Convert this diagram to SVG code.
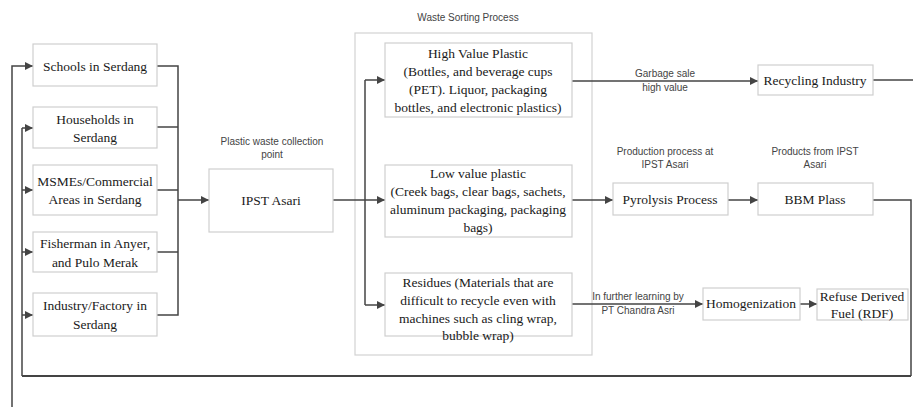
<svg xmlns="http://www.w3.org/2000/svg" width="913" height="407" viewBox="0 0 913 407">
<style>
.box{fill:#fff;stroke:#cfcfcf;stroke-width:1.2}
.t{font-family:"Liberation Serif","Times New Roman",serif;font-size:13.5px;fill:#1a1a1a;text-anchor:middle}
.lb{font-family:"Liberation Sans",Arial,sans-serif;font-size:10px;fill:#444;text-anchor:middle}
.ln{fill:none;stroke:#444;stroke-width:1.5}
.ar{fill:none;stroke:#444;stroke-width:1.5;marker-end:url(#ah)}
</style>
<defs>
<marker id="ah" viewBox="0 0 10 10" refX="10" refY="5" markerWidth="9" markerHeight="8" orient="auto" markerUnits="userSpaceOnUse">
<path d="M0,0 L10,5 L0,10 z" fill="#444"/>
</marker>
</defs>
<rect width="913" height="407" fill="#fff"/>
<g id="sorting-group">
<rect x="355" y="33" width="237" height="322" fill="none" stroke="#d2d2d2" stroke-width="1.2"/>
<text class="lb" x="468" y="21">Waste Sorting Process</text>
</g>
<g id="connectors">
<polyline class="ar" points="12,407 12,66 33,66"/>
<polyline class="ln" points="22,376 911,376" style="stroke-width:2.2"/>
<polyline class="ln" points="22,376 22,128"/>
<polyline class="ar" points="22,128 33,128"/>
<polyline class="ar" points="22,190 33,190"/>
<polyline class="ar" points="22,252 33,252"/>
<polyline class="ar" points="22,315 33,315"/>
<polyline class="ln" points="157,66 178,66 178,315 157,315"/>
<polyline class="ln" points="157,127 178,127"/>
<polyline class="ln" points="157,190 178,190"/>
<polyline class="ln" points="157,252 178,252"/>
<polyline class="ar" points="178,200 209,200"/>
<polyline class="ln" points="333,200 365,200"/>
<polyline class="ln" points="365,80 365,305"/>
<polyline class="ar" points="365,80 385,80"/>
<polyline class="ar" points="365,200 385,200"/>
<polyline class="ar" points="365,305 385,305"/>
<polyline class="ar" points="572,81 758,81"/>
<polyline class="ln" points="873,80 913,80"/>
<polyline class="ar" points="572,200 613,200"/>
<polyline class="ar" points="728,200 758,200"/>
<polyline class="ln" points="873,200 911,200 911,376"/>
<polyline class="ar" points="572,304 703,304"/>
<polyline class="ar" points="800,304 817,304"/>
<text class="lb" x="665" y="77">Garbage sale</text>
<text class="lb" x="665" y="91">high value</text>
<text class="lb" x="638" y="300">In further learning by</text>
<text class="lb" x="638" y="314">PT Chandra Asri</text>
</g>
<g id="schools"><rect class="box" x="33" y="44" width="124" height="42"/><text class="t" x="95" y="71">Schools in Serdang</text></g>
<g id="households"><rect class="box" x="33" y="107" width="124" height="41"/><text class="t" x="95" y="124">Households in</text><text class="t" x="95" y="142">Serdang</text></g>
<g id="msmes"><rect class="box" x="33" y="165" width="124" height="50"/><text class="t" x="95" y="186">MSMEs/Commercial</text><text class="t" x="95" y="204">Areas in Serdang</text></g>
<g id="fishermen"><rect class="box" x="33" y="232" width="124" height="40"/><text class="t" x="95" y="248">Fisherman in Anyer,</text><text class="t" x="95" y="267">and Pulo Merak</text></g>
<g id="industry"><rect class="box" x="33" y="293" width="124" height="43"/><text class="t" x="95" y="310">Industry/Factory in</text><text class="t" x="95" y="329">Serdang</text></g>
<g id="ipst"><text class="lb" x="272" y="145">Plastic waste collection</text><text class="lb" x="272" y="158">point</text><rect class="box" x="209" y="169" width="124" height="63"/><text class="t" x="271" y="205">IPST Asari</text></g>
<g id="high-value"><rect class="box" x="385" y="43" width="187" height="74"/><text class="t" x="478" y="58">High Value Plastic</text><text class="t" x="478" y="76">(Bottles, and beverage cups</text><text class="t" x="478" y="94">(PET). Liquor, packaging</text><text class="t" x="478" y="112">bottles, and electronic plastics)</text></g>
<g id="low-value"><rect class="box" x="385" y="165" width="187" height="72"/><text class="t" x="478" y="178">Low value plastic</text><text class="t" x="478" y="196">(Creek bags, clear bags, sachets,</text><text class="t" x="478" y="214">aluminum packaging, packaging</text><text class="t" x="478" y="232">bags)</text></g>
<g id="residues"><rect class="box" x="385" y="273" width="187" height="63"/><text class="t" x="478" y="287">Residues (Materials that are</text><text class="t" x="478" y="305">difficult to recycle even with</text><text class="t" x="478" y="323">machines such as cling wrap,</text><text class="t" x="478" y="340">bubble wrap)</text></g>
<g id="recycling"><rect class="box" x="758" y="65" width="115" height="30"/><text class="t" x="815" y="85">Recycling Industry</text></g>
<g id="pyrolysis"><text class="lb" x="665" y="155">Production process at</text><text class="lb" x="665" y="168">IPST Asari</text><rect class="box" x="613" y="183" width="115" height="32"/><text class="t" x="670" y="204">Pyrolysis Process</text></g>
<g id="bbm"><text class="lb" x="815" y="155">Products from IPST</text><text class="lb" x="815" y="168">Asari</text><rect class="box" x="758" y="183" width="115" height="32"/><text class="t" x="815" y="204">BBM Plass</text></g>
<g id="homogenization"><rect class="box" x="703" y="288" width="97" height="32"/><text class="t" x="751" y="308">Homogenization</text></g>
<g id="rdf"><rect class="box" x="817" y="289" width="91" height="31"/><text class="t" x="862" y="301">Refuse Derived</text><text class="t" x="862" y="318">Fuel (RDF)</text></g>
</svg>
